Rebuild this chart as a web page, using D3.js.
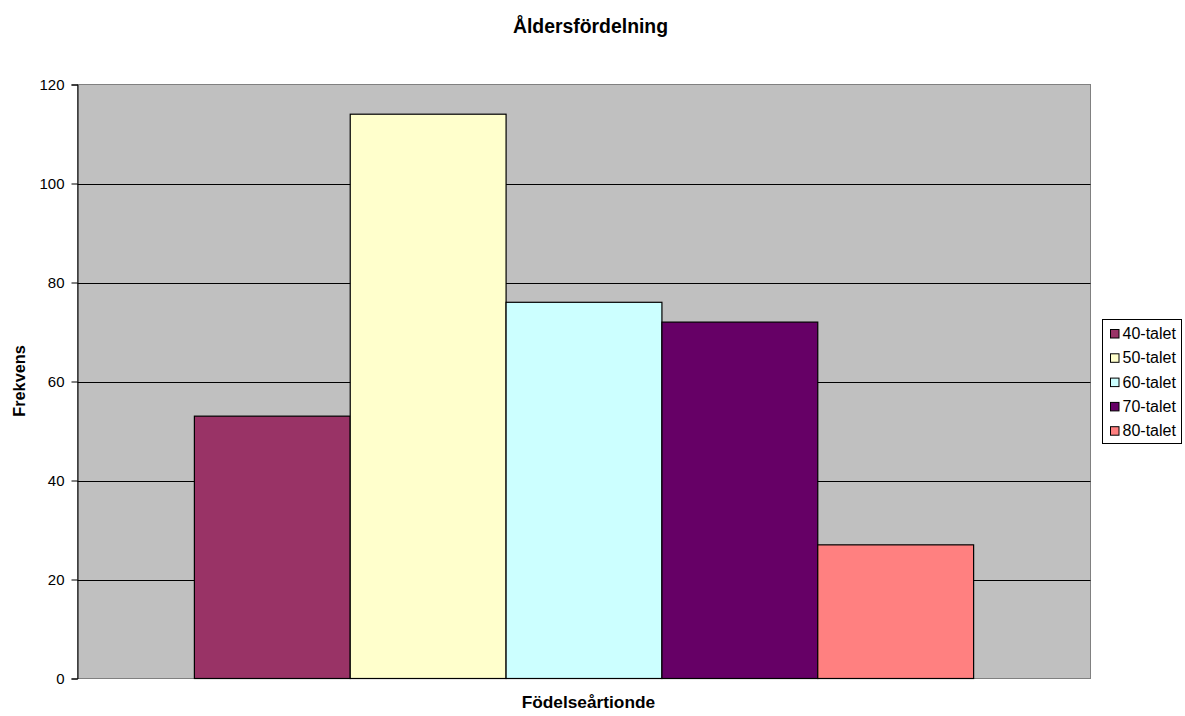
<!DOCTYPE html>
<html><head><meta charset="utf-8">
<script src="https://cdn.jsdelivr.net/npm/d3@7"></script>
<style>body{margin:0;background:#fff}svg{display:block;font-family:"Liberation Sans",Arial,sans-serif}</style>
</head><body><svg id="c" width="1185" height="716"></svg>
<script>
const categories = ["40-talet","50-talet","60-talet","70-talet","80-talet"];
const values = [53,114,76,72,27];
const colors = ["#993366","#FFFFCC","#CCFFFF","#660066","#FF8080"];
const yTicks = [0,20,40,60,80,100,120];
const title = "Åldersfördelning", xTitle = "Födelseårtionde", yTitle = "Frekvens";

const svg = d3.select("#c");
const L = 77.5, R = 1090.5, T = 84.5, B = 678.5;
const y = d3.scaleLinear().domain([0,120]).range([B,T]);
const plotW = R - L;
const barW = plotW / (categories.length + 1.5);
const x = d3.scaleBand().domain(categories).range([L + barW*0.75, R - barW*0.75]).padding(0);

svg.append("rect").attr("x",L).attr("y",T).attr("width",plotW).attr("height",B-T)
  .attr("fill","#C0C0C0").attr("stroke","#808080").attr("stroke-width",1);

svg.append("g").selectAll("line").data(yTicks.filter(d=>d>0 && d<120)).join("line")
  .attr("x1",L).attr("x2",R).attr("y1",d=>Math.round(y(d))+0.5).attr("y2",d=>Math.round(y(d))+0.5)
  .attr("stroke","#000").attr("stroke-width",1);

svg.append("g").selectAll("rect").data(categories).join("rect")
  .attr("x",d=>x(d)).attr("width",x.bandwidth())
  .attr("y",(d,i)=>y(values[i])).attr("height",(d,i)=>B-y(values[i]))
  .attr("fill",(d,i)=>colors[i]).attr("stroke","#000").attr("stroke-width",1.2);

const yAxis = d3.axisLeft(y).tickValues(yTicks).tickSize(6).tickPadding(7);
const ga = svg.append("g").attr("transform",`translate(${L},0)`).call(yAxis);
ga.select(".domain").attr("stroke","#000");
ga.selectAll("text").attr("font-size",15).attr("font-family","Liberation Sans, Arial, sans-serif").attr("fill","#000");
ga.selectAll("line").attr("stroke","#000");

svg.append("text").attr("x",590.5).attr("y",33).attr("text-anchor","middle")
  .attr("font-size",19.4).attr("font-weight","bold").text(title);
svg.append("text").attr("x",588.4).attr("y",708).attr("text-anchor","middle")
  .attr("font-size",17.3).attr("font-weight","bold").text(xTitle);
svg.append("text").attr("transform","translate(25,381) rotate(-90)").attr("text-anchor","middle")
  .attr("font-size",16.3).attr("font-weight","bold").text(yTitle);

const lg = svg.append("g");
lg.append("rect").attr("x",1102.5).attr("y",319.5).attr("width",79).attr("height",124)
  .attr("fill","#fff").attr("stroke","#000");
const items = lg.selectAll("g").data(categories).join("g")
  .attr("transform",(d,i)=>`translate(0,${334 + i*24.3})`);
items.append("rect").attr("x",1110.5).attr("y",-4.5).attr("width",8.5).attr("height",8.5)
  .attr("fill",(d,i)=>colors[i]).attr("stroke","#000");
items.append("text").attr("x",1122.5).attr("y",5).attr("font-size",16).text(d=>d);
</script></body></html>
